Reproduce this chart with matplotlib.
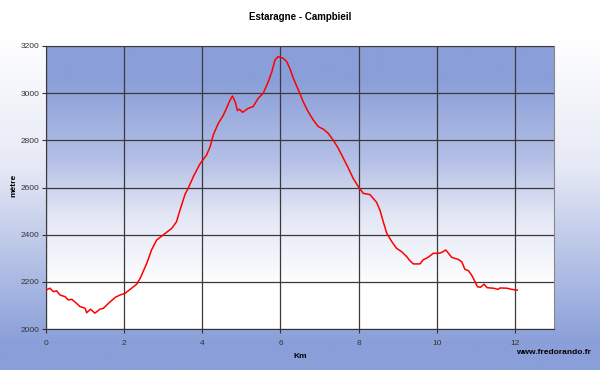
import numpy as np
import matplotlib
matplotlib.use("Agg")
import matplotlib.pyplot as plt
from matplotlib.colors import LinearSegmentedColormap

plt.rcParams['font.family'] = ['Liberation Sans', 'DejaVu Sans']

# profile (km, metres)
km = [0.0, 0.1, 0.19, 0.27, 0.36, 0.49, 0.57, 0.66, 0.78, 0.87, 1.0, 1.04, 1.14, 1.25,
      1.38, 1.47, 1.6, 1.77, 1.89, 2.02, 2.19, 2.32, 2.41, 2.58, 2.7, 2.83, 3.0, 3.22,
      3.34, 3.43, 3.56, 3.64, 3.77, 3.94, 4.11, 4.2, 4.28, 4.41, 4.54, 4.62, 4.69, 4.77,
      4.84, 4.9, 4.95, 5.03, 5.18, 5.3, 5.43, 5.56, 5.69, 5.78, 5.86, 5.94, 6.07, 6.16,
      6.24, 6.33, 6.46, 6.58, 6.71, 6.84, 6.97, 7.1, 7.22, 7.35, 7.48, 7.61, 7.74, 7.86,
      7.99, 8.12, 8.29, 8.46, 8.55, 8.63, 8.72, 8.85, 8.97, 9.1, 9.23, 9.31, 9.4, 9.57,
      9.65, 9.78, 9.91, 10.04, 10.12, 10.23, 10.3, 10.38, 10.55, 10.64, 10.72, 10.81,
      10.89, 10.98, 11.04, 11.12, 11.21, 11.29, 11.45, 11.57, 11.62, 11.79, 11.92, 12.06]
alt = [2165, 2173, 2158, 2162, 2144, 2137, 2123, 2126, 2109, 2095, 2088, 2069, 2084, 2067,
       2084, 2088, 2109, 2134, 2144, 2151, 2173, 2190, 2215, 2279, 2335, 2377, 2399, 2427,
       2455, 2505, 2572, 2597, 2646, 2700, 2738, 2773, 2823, 2872, 2907, 2936, 2964, 2988,
       2964, 2926, 2932, 2919, 2936, 2943, 2978, 3000, 3049, 3091, 3141, 3155, 3148, 3134,
       3105, 3063, 3013, 2964, 2921, 2886, 2858, 2847, 2830, 2801, 2766, 2724, 2681, 2639,
       2604, 2575, 2570, 2537, 2502, 2455, 2406, 2370, 2342, 2328, 2307, 2290, 2276, 2276,
       2293, 2304, 2321, 2321, 2324, 2335, 2321, 2304, 2295, 2285, 2253, 2247,
       2229, 2201, 2179, 2177, 2190, 2175, 2173, 2168, 2174, 2173, 2168, 2165]

x_ticks = [0, 2, 4, 6, 8, 10, 12]
y_ticks = [2000, 2200, 2400, 2600, 2800, 3000, 3200]

BLUE = "#8a9fd9"
grad_fig = LinearSegmentedColormap.from_list(
    "fig", [(0, "white"), (0.1, "white"), (0.45, "#e6e9f6"), (0.93, BLUE), (1, BLUE)])
grad_ax = LinearSegmentedColormap.from_list(
    "ax", [(0, BLUE), (0.12, BLUE), (0.4, "#b4bfe5"), (0.6, "#e3e7f5"),
           (0.85, "white"), (1, "white")])

fig = plt.figure(figsize=(6, 3.7), dpi=100)

# figure background gradient
bg = fig.add_axes([0, 0, 1, 1], zorder=-10)
bg.imshow(np.linspace(0, 1, 256).reshape(-1, 1), aspect="auto", cmap=grad_fig,
          extent=[0, 1, 0, 1], origin="upper")
bg.axis("off")

ax = fig.add_axes([46 / 600, 41 / 370, 508 / 600, 283 / 370])
ax.patch.set_alpha(0)
ax.imshow(np.linspace(0, 1, 256).reshape(-1, 1), aspect="auto", cmap=grad_ax,
          extent=[0, 13, 2000, 3200], origin="upper", zorder=0)

ax.plot(km, alt, color="#ff0000", lw=1.1, zorder=3)

ax.set_xlim(0, 13)
ax.set_ylim(2000, 3200)
ax.set_xticks(x_ticks)
ax.set_yticks(y_ticks)
ax.grid(True, color="#3a3a3a", lw=0.9, zorder=1)
ax.set_axisbelow(False)
for s in ax.spines.values():
    s.set_color("#888888")
ax.spines["left"].set_color("#333333")
ax.spines["bottom"].set_color("#333333")
ax.tick_params(axis="both", labelsize=6, labelcolor="#333333", length=3,
               color="#333333", pad=2)
ax.tick_params(axis="x", pad=5)

fig.text(0.5, 1 - 17 / 370, "Estaragne - Campbieil", ha="center", va="center",
         fontsize=7, fontweight="bold")
fig.text(0.5, 1 - 356 / 370, "Km", ha="center", va="center", fontsize=6,
         fontweight="bold")
fig.text(14 / 600, 0.5, "mètre", ha="center", va="center", rotation=90,
         fontsize=6, fontweight="bold")
fig.text(591 / 600, 1 - 353 / 370, "www.fredorando.fr", ha="right", va="center",
         fontsize=6, fontweight="bold")

fig.savefig("out.png", dpi=100)
